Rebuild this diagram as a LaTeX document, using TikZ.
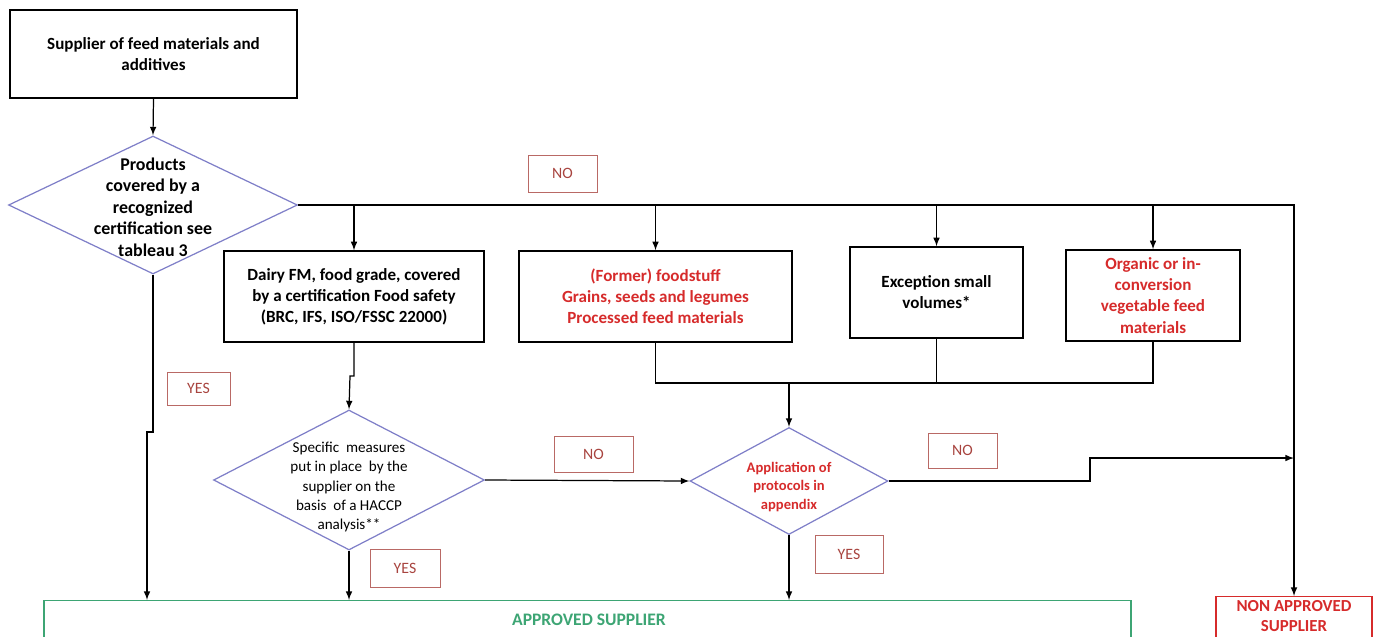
\documentclass[tikz,border=0pt]{standalone}
\usepackage{fontspec}
\setmainfont{Carlito}
\usetikzlibrary{shapes.geometric}

\definecolor{labred}{HTML}{A8443F}
\definecolor{txtred}{HTML}{D62B2B}
\definecolor{diablue}{HTML}{7F7FC8}
\definecolor{okgreen}{HTML}{3DA574}

\tikzset{
  box/.style={draw, line width=0.8pt, align=center, inner sep=0pt,
              font=\fontsize{9.7}{12}\selectfont\bfseries},
  decision/.style={draw=diablue, diamond, line width=0.7pt, inner sep=0pt},
  answer/.style={draw=labred!80, line width=0.5pt, text=labred, inner sep=0pt,
                 font=\fontsize{9}{11}\selectfont},
  arrow/.style={-latex, line width=0.7pt},
  link/.style={line width=0.7pt}
}

\begin{document}
\begin{tikzpicture}[x=0.02cm, y=-0.02cm]

\clip (0,0) rectangle (1378,636);

% Boxes
\node[box, minimum width=5.74cm, minimum height=1.76cm] (top) at (153.5,54) {Supplier of feed materials and\\additives};
\node[box, minimum width=5.2cm, minimum height=1.82cm] (dairy) at (354,296.5) {Dairy FM, food grade, covered\\by a certification Food safety\\(BRC, IFS, ISO/FSSC 22000)};
\node[box, text=txtred, minimum width=5.46cm, minimum height=1.82cm] (former) at (655.5,296.5) {(Former) foodstuff\\Grains, seeds and legumes\\Processed feed materials};
\node[box, minimum width=3.46cm, minimum height=1.82cm] (except) at (936.5,292.5) {Exception small\\volumes*};
\node[box, text=txtred, minimum width=3.48cm, minimum height=1.82cm] (organic) at (1153,295.5) {Organic or in-\\conversion\\vegetable feed\\materials};

% Decisions (text set apart, it runs over the edges)
\node[decision, minimum width=5.78cm, minimum height=2.76cm] (cert) at (153,205) {};
\node[align=center, font=\fontsize{10.2}{12.2}\selectfont\bfseries] (certtxt) at (153,207) {Products\\covered by a\\recognized\\certification see\\tableau 3};
\node[decision, minimum width=5.42cm, minimum height=2.8cm] (haccp) at (349,480) {};
\node[align=center, font=\fontsize{8.6}{10.9}\selectfont] (haccptxt) at (349,487) {Specific \ measures\\put in place \ by the\\supplier on the\\basis \ of a HACCP\\analysis**};
\node[decision, minimum width=3.96cm, minimum height=2.14cm] (proto) at (789,481) {};
\node[align=center, text=txtred, font=\fontsize{8.3}{10.6}\selectfont\bfseries] (prototxt) at (789,487) {Application of\\protocols in\\appendix};

% Outcomes
\node[draw=okgreen, line width=0.7pt, minimum width=21.74cm, minimum height=0.9cm, anchor=north] (ok) at (587.5,600) {};
\node[text=okgreen, font=\fontsize{10}{12}\selectfont\bfseries] (oktxt) at (589,620) {APPROVED SUPPLIER};
\node[draw=txtred, line width=0.7pt, minimum width=3.12cm, minimum height=1cm, anchor=north] (nok) at (1294,596) {};
\node[text=txtred, align=center, inner sep=0pt, font=\fontsize{9.6}{11}\selectfont\bfseries] (noktxt) at (1294,616) {NON APPROVED\\SUPPLIER};

% Yes / No labels
\node[answer, minimum width=1.38cm, minimum height=0.74cm] (no1) at (562.5,173.5) {NO};
\node[answer, minimum width=1.26cm, minimum height=0.66cm] (yes1) at (198.5,388.5) {YES};
\node[answer, minimum width=1.58cm, minimum height=0.72cm] (no2) at (593.5,454) {NO};
\node[answer, minimum width=1.40cm, minimum height=0.76cm] (yes2) at (405,568) {YES};
\node[answer, minimum width=1.38cm, minimum height=0.70cm] (no3) at (962.5,450.5) {NO};
\node[answer, minimum width=1.36cm, minimum height=0.76cm] (yes3) at (849,554) {YES};

% Junctions
\coordinate (jA) at (153,432);
\coordinate (jB) at (147,432);
\coordinate (jD) at (350,376);
\coordinate (jM) at (789,383);
\coordinate (jS) at (1090,458);

% Connectors
\draw[arrow] (top.south) -- (cert.north);
\draw[arrow] (cert.east) -| (nok.north);
\draw[arrow] (dairy.north |- cert.east) -- (dairy.north);
\draw[arrow] (former.north |- cert.east) -- (former.north);
\draw[arrow] (except.north |- cert.east) -- (except.north);
\draw[arrow] (organic.north |- cert.east) -- (organic.north);

\draw[arrow] (cert.south) -- (jA) -- (jB) -- (jB |- ok.north);
\draw[arrow] (dairy.south) |- (jD) -- (haccp.north);
\draw[arrow] (haccp.east) -- (proto.west);
\draw[arrow] (haccp.south) -- (haccp.south |- ok.north);

\draw[link] (former.south) |- (jM);
\draw[link] (organic.south) |- (jM);
\draw[link] (except.south) -- (except.south |- jM);
\draw[arrow] (jM) -- (proto.north);

\draw[arrow] (proto.east) -| (jS) -- (jS -| nok.north);
\draw[arrow] (proto.south) -- (proto.south |- ok.north);

\end{tikzpicture}
\end{document}
